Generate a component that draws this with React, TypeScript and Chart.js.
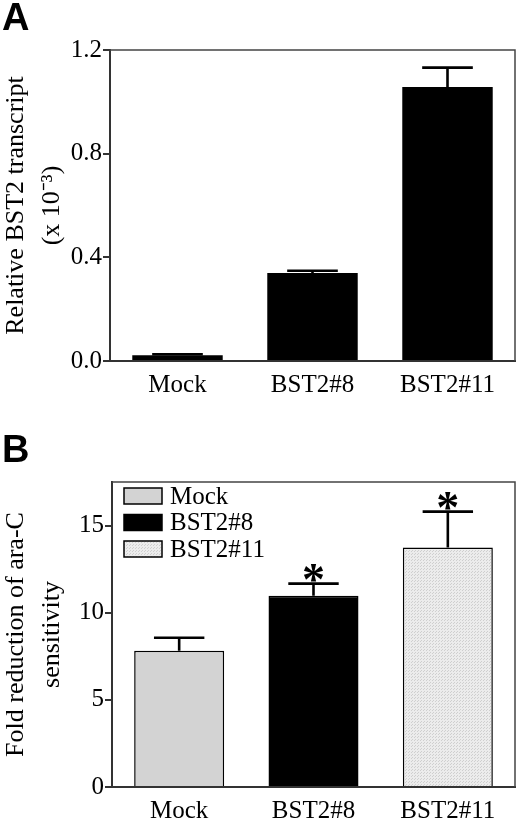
import React, { useEffect, useRef } from "react";
import { Chart, registerables } from "chart.js";

Chart.register(...registerables);

// ---- data ----
const categories = ["Mock", "BST2#8", "BST2#11"];
const transcript = [0.022, 0.34, 1.057];
const transcriptErr = [0.004, 0.008, 0.075];
const foldReduction = [7.82, 10.98, 13.74];
const foldReductionErr = [0.74, 0.69, 2.06];
const significant = [false, true, true];
const yTicksA = [0, 0.4, 0.8, 1.2];
const yTicksB = [0, 5, 10, 15];
const titleA = ["Relative BST2 transcript", "(x 10\u207B\u00B3)"];
const titleB = ["Fold reduction of ara-C", "sensitivity"];

const SERIF = "'Liberation Serif', 'Times New Roman', serif";
const AXIS = "#333333";

function makeStipple(): CanvasPattern | string {
  const c = document.createElement("canvas");
  c.width = 3;
  c.height = 3;
  const g = c.getContext("2d");
  if (!g) return "#e6e6e6";
  g.fillStyle = "#ececec";
  g.fillRect(0, 0, 3, 3);
  g.fillStyle = "#cfcfcf";
  g.fillRect(0, 0, 1, 1);
  g.fillRect(1, 2, 1, 1);
  const p = g.createPattern(c, "repeat");
  return p || "#e6e6e6";
}

const errorBarPlugin = {
  id: "errorBars",
  afterDatasetsDraw(chart: any, _args: any, opts: any) {
    const errs: number[] = opts.errors || [];
    const marks: boolean[] = opts.marks || [];
    const meta = chart.getDatasetMeta(0);
    const ys = chart.scales.y;
    const data = chart.data.datasets[0].data as number[];
    const ctx = chart.ctx;
    ctx.save();
    ctx.strokeStyle = "#000";
    ctx.lineWidth = 2.6;
    meta.data.forEach((el: any, i: number) => {
      const v = data[i];
      const e = errs[i] || 0;
      const yTop = ys.getPixelForValue(v);
      const yErr = ys.getPixelForValue(v + e);
      const half = (el.width * 0.56) / 2;
      ctx.beginPath();
      ctx.moveTo(el.x, yTop);
      ctx.lineTo(el.x, yErr);
      ctx.moveTo(el.x - half, yErr);
      ctx.lineTo(el.x + half, yErr);
      ctx.stroke();
      if (marks[i]) {
        ctx.font = `bold 46px ${SERIF}`;
        ctx.textAlign = "center";
        ctx.textBaseline = "alphabetic";
        ctx.fillStyle = "#000";
        const m = ctx.measureText("*");
        const asc = m.actualBoundingBoxAscent;
        const desc = m.actualBoundingBoxDescent;
        const cy = yErr - 11;
        const base = cy - (desc - asc) / 2;
        ctx.fillText("*", el.x, base);
      }
    });
    ctx.restore();
  },
};

const framePlugin = {
  id: "frame",
  afterDraw(chart: any) {
    const { left, right, top, bottom } = chart.chartArea;
    const ctx = chart.ctx;
    ctx.save();
    ctx.strokeStyle = "#444";
    ctx.lineWidth = 1.5;
    ctx.beginPath();
    ctx.moveTo(left, top);
    ctx.lineTo(right, top);
    ctx.lineTo(right, bottom);
    ctx.stroke();
    ctx.restore();
  },
};

const boxLegendPlugin = {
  id: "boxLegend",
  afterDraw(chart: any, _args: any, opts: any) {
    if (!opts || !opts.show) return;
    const { left, top } = chart.chartArea;
    const ctx = chart.ctx;
    const ds = chart.data.datasets[0];
    const labels = chart.data.labels as string[];
    ctx.save();
    labels.forEach((lab, i) => {
      const cy = top + 14 + i * 26.5;
      const bx = left + 12;
      ctx.fillStyle = ds.backgroundColor[i];
      ctx.fillRect(bx, cy - 8, 38, 16);
      ctx.strokeStyle = "#000";
      ctx.lineWidth = 1.5;
      ctx.strokeRect(bx, cy - 8, 38, 16);
      ctx.fillStyle = "#000";
      ctx.font = `25px ${SERIF}`;
      ctx.textAlign = "left";
      ctx.textBaseline = "middle";
      ctx.fillText(lab, bx + 46, cy + 1);
    });
    ctx.restore();
  },
};

function baseOptions(
  yMin: number,
  yMax: number,
  ticks: number[],
  fmt: (v: number) => string,
  title: string[],
  padTop: number,
  yWidth: number,
  xHeight: number
): any {
  return {
    responsive: false,
    animation: false,
    maintainAspectRatio: false,
    layout: { padding: { left: 0, right: 5, top: padTop, bottom: 0 } },
    plugins: {
      legend: { display: false },
      tooltip: { enabled: false },
    },
    scales: {
      x: {
        grid: { display: false, drawTicks: false },
        border: { display: true, color: AXIS, width: 2 },
        ticks: { color: "#000", font: { family: SERIF, size: 25 }, padding: 9 },
        afterFit: (s: any) => {
          s.height = xHeight;
        },
      },
      y: {
        min: yMin,
        max: yMax,
        afterBuildTicks: (s: any) => {
          s.ticks = ticks.map((v) => ({ value: v }));
        },
        ticks: {
          color: "#000",
          font: { family: SERIF, size: 25 },
          padding: 1,
          callback: (v: any) => fmt(Number(v)),
        },
        grid: { drawOnChartArea: false, drawTicks: true, tickLength: 7, color: AXIS, lineWidth: 2 },
        border: { display: true, color: AXIS, width: 2 },
        title: {
          display: true,
          text: title,
          color: "#000",
          font: { family: SERIF, size: 26, lineHeight: 1.4 },
          padding: { top: -2, bottom: 0 },
        },
        afterFit: (s: any) => {
          s.width = yWidth;
        },
      },
    },
  };
}

function PanelA() {
  const ref = useRef<HTMLCanvasElement>(null);
  useEffect(() => {
    if (!ref.current) return;
    const opts = baseOptions(0, 1.2, yTicksA, (v) => v.toFixed(1), titleA, 50, 110, 49);
    opts.plugins.errorBars = { errors: transcriptErr, marks: [false, false, false] };
    const chart = new Chart(ref.current, {
      type: "bar",
      data: {
        labels: categories,
        datasets: [
          {
            data: transcript,
            backgroundColor: ["#000", "#000", "#000"],
            borderColor: "#000",
            borderWidth: 0,
            barPercentage: 0.67,
            categoryPercentage: 1,
          },
        ],
      },
      options: opts,
      plugins: [errorBarPlugin, framePlugin],
    });
    return () => chart.destroy();
  }, []);
  return <canvas ref={ref} width={520} height={410} style={{ position: "absolute", left: 0, top: 0 }} />;
}

function PanelB() {
  const ref = useRef<HTMLCanvasElement>(null);
  useEffect(() => {
    if (!ref.current) return;
    const opts = baseOptions(0, 17.5, yTicksB, (v) => String(v), titleB, 72, 112, 37);
    opts.plugins.errorBars = { errors: foldReductionErr, marks: significant };
    opts.plugins.boxLegend = { show: true };
    const stipple = makeStipple();
    const chart = new Chart(ref.current, {
      type: "bar",
      data: {
        labels: categories,
        datasets: [
          {
            data: foldReduction,
            backgroundColor: ["#d3d3d3", "#000000", stipple as any],
            borderColor: "#000",
            borderWidth: 1.5,
            borderSkipped: "bottom",
            barPercentage: 0.67,
            categoryPercentage: 1,
          },
        ],
      },
      options: opts,
      plugins: [errorBarPlugin, framePlugin, boxLegendPlugin],
    });
    return () => chart.destroy();
  }, []);
  return <canvas ref={ref} width={520} height={414} style={{ position: "absolute", left: 0, top: 410 }} />;
}

export default function App() {
  const labelStyle: React.CSSProperties = {
    position: "absolute",
    left: 2,
    fontFamily: "'Liberation Sans', Arial, sans-serif",
    fontWeight: "bold",
    fontSize: 38,
    lineHeight: 1,
    color: "#000",
  };
  return (
    <div style={{ position: "absolute", left: 0, top: 0, width: 520, height: 824, background: "#fff" }}>
      <PanelA />
      <PanelB />
      <div style={{ ...labelStyle, top: -2 }}>A</div>
      <div style={{ ...labelStyle, top: 430 }}>B</div>
    </div>
  );
}
